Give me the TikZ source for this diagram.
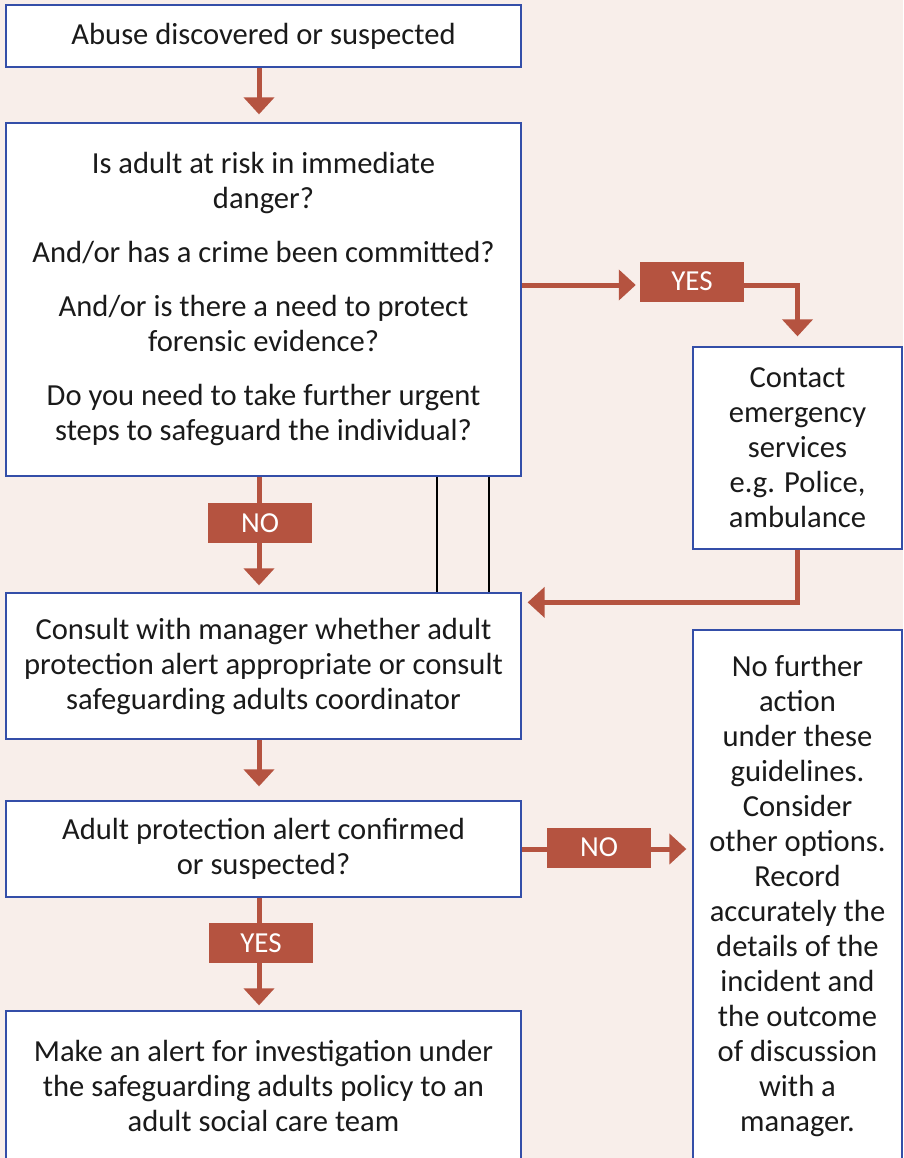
\documentclass[tikz,border=0pt]{standalone}
\usepackage{fontspec}
\setmainfont{Carlito}
\usetikzlibrary{arrows.meta}
\definecolor{bgpink}{RGB}{248,238,234}
\definecolor{rust}{RGB}{181,83,64}
\definecolor{edgeblue}{RGB}{52,78,168}
\definecolor{ink}{RGB}{26,26,26}

\begin{document}
\begin{tikzpicture}[x=1pt, y=-1pt,
	box/.style={draw=edgeblue, line width=1.3pt, fill=white, text=ink, align=center, inner sep=0pt,
		font=\fontsize{30.6}{35}\selectfont},
	tag/.style={fill=rust, text=white, minimum width=104pt, minimum height=40pt, inner sep=0pt,
		font=\fontsize{29}{32}\selectfont},
	line/.style={draw=rust, line width=5pt},
	flow/.style={line, -{Triangle[width=30pt, length=17pt]}},
	bar/.style={draw=black, line width=2.2pt}]
			%%%%% START %%%%%
			
			\useasboundingbox (0, 0) rectangle (903, 1158);
			\clip (0, 0) rectangle (903, 1158);
			\fill[bgpink] (0, 0) rectangle (903, 1158);
			
			\coordinate (spine) at (259, 0);
			\coordinate (barA) at (437, 0);
			\coordinate (barB) at (489, 0);
			
			% left column
			\node[box, minimum width=515pt, minimum height=62pt] (abuse) at (263.5, 36) {Abuse discovered or suspected};
			\node[box, minimum width=515pt, minimum height=353pt] (risk) at (263.5, 299.5) {Is adult at risk in immediate\\danger?\\[19pt]And/or has a crime been committed?\\[19pt]And/or is there a need to protect\\forensic evidence?\\[19pt]Do you need to take further urgent\\steps to safeguard the individual?};
			\node[box, minimum width=515pt, minimum height=146pt] (consult) at (263.5, 666) {Consult with manager whether adult\\protection alert appropriate or consult\\safeguarding adults coordinator};
			\node[box, minimum width=515pt, minimum height=96pt] (alert) at (263.5, 849) {Adult protection alert confirmed\\or suspected?};
			\node[box, minimum width=515pt, minimum height=150pt] (make) at (263.5, 1086) {Make an alert for investigation under\\the safeguarding adults policy to an\\adult social care team};
			
			% right column
			\node[box, minimum width=209pt, minimum height=202pt] (contact) at (797.5, 448) {Contact\\emergency\\services\\e.g. Police,\\ambulance};
			\node[box, minimum width=209pt, minimum height=532pt] (nofurther) at (797.5, 896) {No further\\action\\under these\\guidelines.\\Consider\\other options.\\Record\\accurately the\\details of the\\incident and\\the outcome\\of discussion\\with a\\manager.};
			
			% labels
			\node[tag] (yesA) at (692, 281.5) {YES};
			\node[tag] (noA) at (260, 523) {NO};
			\node[tag] (noB) at (599, 847.5) {NO};
			\node[tag] (yesB) at (261, 943) {YES};
			
			% connectors
			\draw[flow, shorten >=8pt] (abuse.south -| spine) -- (risk.north -| spine);
			
			\draw[flow, shorten >=4pt] ([yshift=-3.5pt]risk.east |- yesA.west) -- ([yshift=-3.5pt]yesA.west);
			\draw[flow, shorten >=10pt] ([yshift=-3.5pt]yesA.east) -| (contact.north);
			\draw[flow, shorten >=6pt] (contact.south) |- ([yshift=-10pt]consult.north east);
			
			\draw[line] (risk.south -| spine) -- (noA.north -| spine);
			\draw[flow, shorten >=7pt] (noA.south -| spine) -- (consult.north -| spine);
			\draw[bar] (risk.south -| barA) -- (consult.north -| barA);
			\draw[bar] (risk.south -| barB) -- (consult.north -| barB);
			
			\draw[flow, shorten >=14pt] (consult.south -| spine) -- (alert.north -| spine);
			
			\draw[line] (alert.east) -- (noB.west |- alert.east);
			\draw[flow, shorten >=6pt] (noB.east |- alert.east) -- (nofurther.west |- alert.east);
			
			\draw[line] (alert.south -| spine) -- (yesB.north -| spine);
			\draw[flow, shorten >=5pt] (yesB.south -| spine) -- (make.north -| spine);
			
			%%%%% END %%%%%
\end{tikzpicture}
\end{document}
